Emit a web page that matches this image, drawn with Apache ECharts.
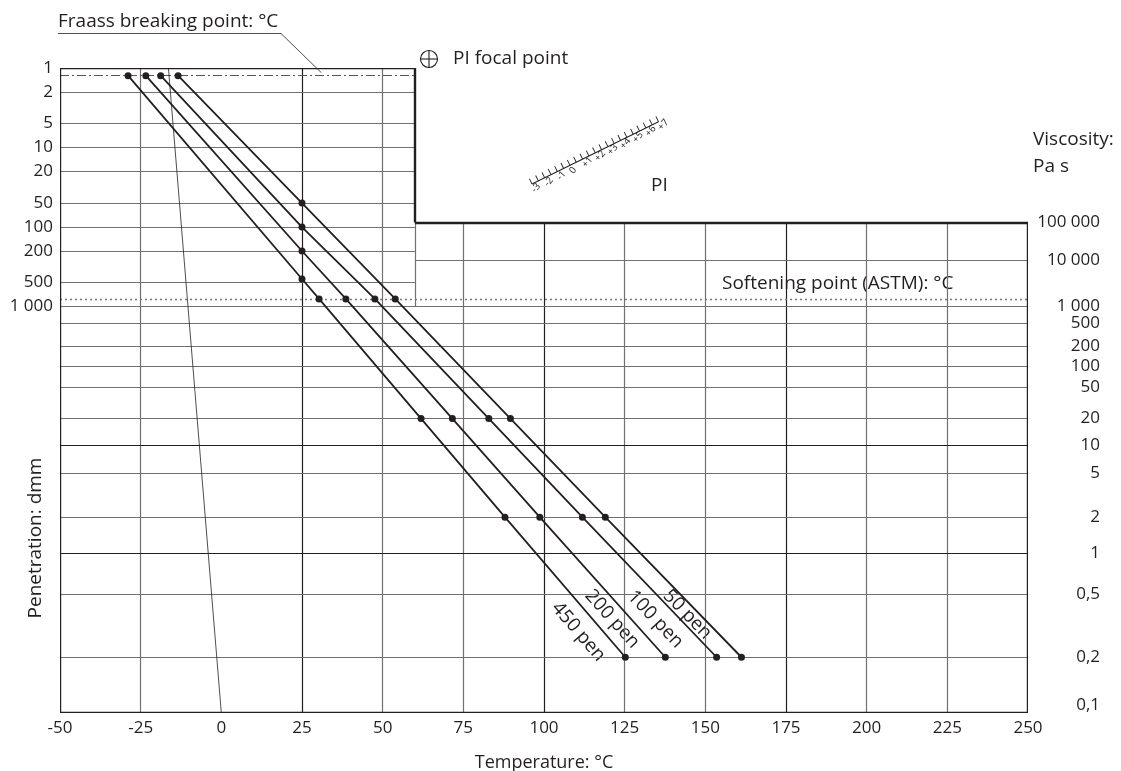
<!DOCTYPE html>
<html>
<head>
<meta charset="utf-8">
<script src="https://cdn.jsdelivr.net/npm/echarts@6/dist/echarts.min.js"></script>
<style>
  html, body { margin: 0; padding: 0; background: #ffffff; }
  #chart { width: 1121px; height: 771px; }
</style>
</head>
<body>
<div id="chart"></div>
<script>
// ---- Bitumen test data chart ----

// Temperature axis (°C)
const tempMin = -50;
const tempMax = 250;
const tempStep = 25;

// Penetration scale (dmm), logarithmic: one scale unit = one decade above 1 dmm
const penTicks = [1, 2, 5, 10, 20, 50, 100, 200, 500, 1000];
const penLabels = ['1', '2', '5', '10', '20', '50', '100', '200', '500', '1 000'];

// Viscosity scale (Pa s) and its calibration on the same vertical scale units
const viscTicks = [100000, 10000, 1000, 500, 200, 100, 50, 20, 10, 5, 2, 1, 0.5, 0.2, 0.1];
const viscLabels = ['100 000', '10 000', '1 000', '500', '200', '100', '50', '20', '10', '5', '2', '1', '0,5', '0,2', '0,1'];
const viscScale = [1.942, 2.411, 3.0, 3.208, 3.502, 3.753, 4.013, 4.408, 4.747, 5.099, 5.648, 6.101, 6.621, 7.409, 8.11];

// Lower end of the vertical scale
const scaleBottom = 8.11;

// Reference penetrations of the characteristic points
const fraassPen = 1.25;      // Fraass breaking point
const softeningPen = 800;    // Softening point (ASTM)
const penTestTemp = 25;      // penetration test temperature, °C

// Grades and their measured points
const grades = ['450 pen', '200 pen', '100 pen', '50 pen'];
const fraassTemp = [-28.9, -23.4, -18.8, -13.4];
const pen25 = [450, 200, 100, 50];
const softeningTemp = [30.3, 38.6, 47.6, 53.9];
const viscLevels = [20, 2, 0.2];
const viscTemp20 = [61.9, 71.6, 82.9, 89.6];
const viscTemp2 = [87.9, 98.7, 111.9, 119.0];
const viscTemp02 = [125.2, 137.6, 153.5, 161.2];

// Upper (penetration) block ends at this temperature
const penBlockEdge = 60;
// Thin reference line across the chart
const refLineTop = -16.4;
const refLineBottom = 0;

const penY = p => Math.log10(p);
const viscY = v => viscScale[viscTicks.indexOf(v)];

const INK = '#231f20';
const GRID = '#707070';
const FONT = 'Open Sans';

function findLabel(values, labels, v) {
  for (let i = 0; i < values.length; i++) {
    if (Math.abs(values[i] - v) < 1e-6) return labels[i];
  }
  return '';
}

// ---- grid and frame segments ----
const segs = [];
function seg(x1, y1, x2, y2, style) {
  segs.push({ coords: [[x1, y1], [x2, y2]], lineStyle: style });
}
const thin = { color: GRID, width: 1.2, opacity: 1 };
const dark = { color: INK, width: 1.2, opacity: 1 };
const frame = { color: INK, width: 2.4, opacity: 1 };

// vertical temperature lines
for (let t = tempMin + tempStep; t < tempMax; t += tempStep) {
  if (t === 0) continue;
  const style = (t === 25 || t === 100 || t === 175) ? dark : thin;
  const top = t < penBlockEdge ? 0 : viscY(100000);
  seg(t, top, t, scaleBottom, style);
}
// block edge continues down to the 1 000 line
seg(penBlockEdge, viscY(100000), penBlockEdge, penY(1000), thin);

// penetration lines in the upper block
penTicks.forEach(p => {
  if (p === 1 || p === 1000) return;
  seg(tempMin, penY(p), penBlockEdge, penY(p), thin);
});
// viscosity lines
viscTicks.forEach(v => {
  if (v === 100000 || v === 0.1) return;
  const style = (v === 10 || v === 1) ? dark : thin;
  const left = v === 10000 ? penBlockEdge : tempMin;
  seg(left, viscY(v), tempMax, viscY(v), style);
});
// Fraass breaking point line (dash-dot)
seg(tempMin, penY(fraassPen), penBlockEdge, penY(fraassPen),
    { color: '#555555', width: 1, type: [9, 3, 2, 3], opacity: 1 });
// softening point line (dotted)
seg(tempMin, penY(softeningPen), tempMax, penY(softeningPen),
    { color: '#7a7a7a', width: 1.3, type: [2, 3], opacity: 1 });
// thin reference line
seg(refLineTop, 0, refLineBottom, scaleBottom, { color: INK, width: 0.8, opacity: 1 });

// outer frame
seg(tempMin, 0, tempMin, scaleBottom, frame);
seg(tempMin, scaleBottom, tempMax, scaleBottom, frame);
seg(tempMax, scaleBottom, tempMax, viscY(100000), frame);
seg(tempMax, viscY(100000), penBlockEdge, viscY(100000), frame);
seg(penBlockEdge, viscY(100000), penBlockEdge, 0, frame);
seg(penBlockEdge, 0, tempMin, 0, frame);

// ---- grade lines ----
const gradeSeries = grades.map((g, i) => ({
  type: 'line',
  name: g,
  z: 5,
  symbol: 'circle',
  symbolSize: 7,
  showSymbol: true,
  animation: false,
  itemStyle: { color: INK },
  lineStyle: { color: INK, width: 1.8 },
  data: [
    [fraassTemp[i], penY(fraassPen)],
    [penTestTemp, penY(pen25[i])],
    [softeningTemp[i], penY(softeningPen)],
    [viscTemp20[i], viscY(viscLevels[0])],
    [viscTemp2[i], viscY(viscLevels[1])],
    [viscTemp02[i], viscY(viscLevels[2])]
  ]
}));

const chart = echarts.init(document.getElementById('chart'), null, { renderer: 'canvas' });

chart.setOption({
  animation: false,
  backgroundColor: '#ffffff',
  textStyle: { fontFamily: FONT, color: INK },
  grid: { left: 60, right: 93, top: 68, bottom: 58, containLabel: false, outerBoundsMode: 'none' },
  xAxis: {
    type: 'value',
    min: tempMin,
    max: tempMax,
    interval: tempStep,
    axisLine: { show: false },
    axisTick: { show: false },
    splitLine: { show: false },
    axisLabel: { fontSize: 17, color: INK, margin: 7, fontFamily: FONT },
    name: 'Temperature: °C',
    nameLocation: 'middle',
    nameGap: 41,
    nameTextStyle: { fontSize: 18, color: INK, fontFamily: FONT }
  },
  yAxis: [
    {
      type: 'value',
      inverse: true,
      min: 0,
      max: scaleBottom,
      position: 'left',
      axisLine: { show: false },
      axisTick: { show: false },
      splitLine: { show: false },
      axisLabel: {
        customValues: penTicks.map(penY),
        formatter: v => findLabel(penTicks.map(penY), penLabels, v),
        fontSize: 17, color: INK, margin: 7, fontFamily: FONT
      }
    },
    {
      type: 'value',
      inverse: true,
      min: 0,
      max: scaleBottom,
      position: 'right',
      axisLine: { show: false },
      axisTick: { show: false },
      splitLine: { show: false },
      axisLabel: {
        customValues: viscScale,
        formatter: v => {
          const s = findLabel(viscScale, viscLabels, v);
          return v >= scaleBottom - 1e-6 ? '{low|' + s + '}' : s;
        },
        align: 'right',
        margin: 72,
        fontSize: 17, color: INK, fontFamily: FONT,
        rich: { low: { fontSize: 17, color: INK, fontFamily: FONT, padding: [0, 0, 16, 0] } }
      }
    }
  ],
  series: [
    {
      type: 'lines',
      coordinateSystem: 'cartesian2d',
      z: 1,
      silent: true,
      animation: false,
      data: segs
    }
  ].concat(gradeSeries)
});

// ---- annotations ----
const px = (x, y) => chart.convertToPixel({ gridIndex: 0 }, [x, y]);
const graphics = [];
const textStyleOf = (text, size, align, vAlign) => ({
  text, fontSize: size, fill: INK, fontFamily: FONT, align: align || 'left', verticalAlign: vAlign || 'middle'
});

// titles
graphics.push({ type: 'text', x: 58, y: 22, style: textStyleOf('Fraass breaking point: °C', 19) });
graphics.push({ type: 'text', x: 1033, y: 140, style: textStyleOf('Viscosity:', 19) });
graphics.push({ type: 'text', x: 1033, y: 167, style: textStyleOf('Pa s', 19) });
graphics.push({ type: 'text', x: 36, y: 538, rotation: Math.PI / 2,
  style: textStyleOf('Penetration: dmm', 19, 'center', 'middle') });
const softLabelAt = px(142, penY(softeningPen));
graphics.push({ type: 'text', x: 722, y: softLabelAt[1] - 15,
  style: textStyleOf('Softening point (ASTM): °C', 19) });

// Fraass leader line
const fraassTip = px(31, penY(fraassPen));
graphics.push({ type: 'polyline', shape: { points: [[58, 33.5], [281, 33.5], [fraassTip[0], fraassTip[1] - 3]] },
  style: { stroke: INK, lineWidth: 0.8, fill: null } });

// PI focal point
graphics.push({ type: 'circle', shape: { cx: 429, cy: 59, r: 8.5 }, style: { stroke: INK, lineWidth: 1.1, fill: 'none' } });
graphics.push({ type: 'line', shape: { x1: 420.5, y1: 59, x2: 437.5, y2: 59 }, style: { stroke: INK, lineWidth: 1.1 } });
graphics.push({ type: 'line', shape: { x1: 429, y1: 50.5, x2: 429, y2: 67.5 }, style: { stroke: INK, lineWidth: 1.1 } });
graphics.push({ type: 'text', x: 453, y: 59, style: textStyleOf('PI focal point', 19) });

// PI ruler
const piValues = [-3, -2, -1, 0, 1, 2, 3, 4, 5, 6, 7];
const piLen = 141;
const piUnit = piLen / (piValues[piValues.length - 1] - piValues[0]);
const rulerChildren = [{ type: 'line', shape: { x1: 0, y1: 0, x2: piLen, y2: 0 }, style: { stroke: INK, lineWidth: 1 } }];
for (let k = 0; k <= 20; k++) {
  const x = k * piUnit / 2;
  rulerChildren.push({ type: 'line', shape: { x1: x, y1: 0, x2: x, y2: -6 }, style: { stroke: INK, lineWidth: 0.9 } });
}
piValues.forEach(v => {
  const x = (v - piValues[0]) * piUnit;
  rulerChildren.push({
    type: 'text', x: x - 2, y: 7, rotation: 0.4,
    style: { text: v > 0 ? '+' + v : String(v), fontSize: 9.5, fill: INK, fontFamily: FONT, align: 'left', verticalAlign: 'middle' }
  });
});
graphics.push({ type: 'group', x: 532, y: 184, rotation: 0.457, children: rulerChildren });
graphics.push({ type: 'text', x: 651, y: 186, style: textStyleOf('PI', 19) });

// grade labels along the lines
const labelFrac = [0.73, 0.66, 0.64, 0.65];
const labelOffset = [19, 14, 18, 9];
grades.forEach((g, i) => {
  const a = px(viscTemp2[i], viscY(viscLevels[1]));
  const b = px(viscTemp02[i], viscY(viscLevels[2]));
  const dx = b[0] - a[0], dy = b[1] - a[1];
  const len = Math.hypot(dx, dy);
  const ux = dx / len, uy = dy / len;
  const cx = a[0] + dx * labelFrac[i] - uy * labelOffset[i];
  const cy = a[1] + dy * labelFrac[i] + ux * labelOffset[i];
  graphics.push({ type: 'text', x: cx, y: cy, rotation: -Math.atan2(dy, dx),
    style: textStyleOf(g, 19, 'center', 'middle') });
});

chart.setOption({ graphic: { elements: graphics } });
</script>
</body>
</html>
